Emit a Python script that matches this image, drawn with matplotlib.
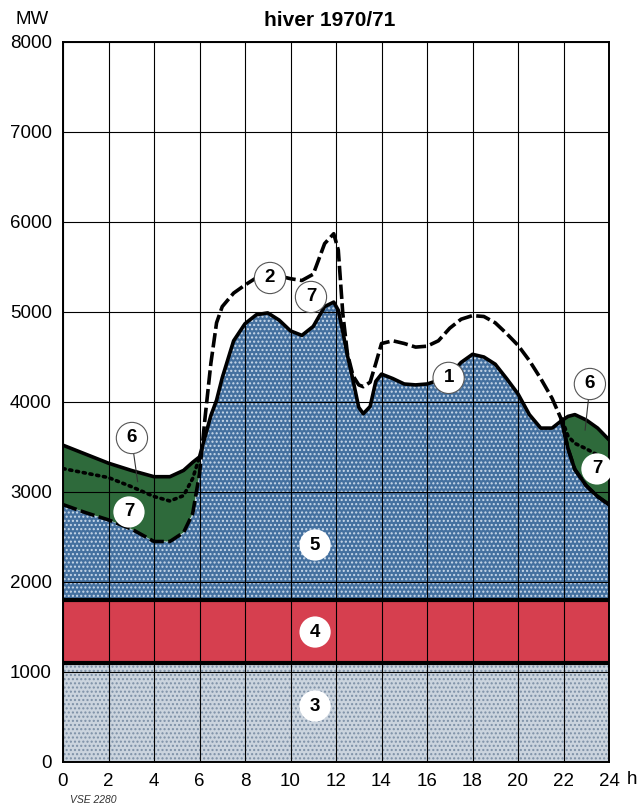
import numpy as np
import matplotlib
matplotlib.use('Agg')
import matplotlib.pyplot as plt

# --- données (MW) ---
heures = [0, 1, 2, 3, 4, 4.7, 5.3, 5.7, 6.0, 6.25, 6.5, 6.75, 7.0, 7.5, 8.0, 8.5, 9.0, 9.5,
          10.0, 10.5, 11.0, 11.5, 11.9, 12.1, 12.3, 12.5, 12.75, 13.0, 13.2, 13.5, 13.75,
          14.0, 14.5, 15.0, 15.5, 16.0, 16.5, 17.0, 17.5, 18.0, 18.5, 19.0, 19.5, 20.0,
          20.5, 21.0, 21.5, 21.9, 22.2, 22.5, 23.0, 23.5, 24.0]

# courbe 1 : consommation
conso = [3520, 3420, 3320, 3240, 3170, 3170, 3240, 3330, 3390, 3620, 3850, 4020, 4270, 4680,
         4870, 4970, 4990, 4910, 4790, 4740, 4840, 5060, 5110, 5020, 4780, 4520, 4240, 3940,
         3870, 3950, 4230, 4310, 4260, 4200, 4190, 4200, 4240, 4300, 4440, 4530, 4500, 4420,
         4260, 4090, 3860, 3710, 3710, 3790, 3840, 3860, 3800, 3710, 3580]

# courbe 2 : production
prod = [2860, 2770, 2690, 2590, 2450, 2450, 2550, 2760, 3200, 3840, 4430, 4880, 5060, 5210,
        5300, 5380, 5410, 5400, 5370, 5350, 5420, 5760, 5870, 5690, 4980, 4540, 4290, 4190,
        4170, 4220, 4430, 4650, 4680, 4650, 4610, 4620, 4680, 4820, 4920, 4960, 4950, 4880,
        4760, 4630, 4460, 4260, 4040, 3810, 3480, 3250, 3070, 2950, 2860]

# ligne pointillée (zones 6 / 7)
pointille_g_x = [0, 1, 2, 3, 4, 4.7, 5.3, 5.7, 6.0]
pointille_g_y = [3260, 3210, 3160, 3060, 2950, 2900, 2960, 3150, 3390]
pointille_d_x = [21.95, 22.2, 22.5, 23.0, 23.5, 24.0]
pointille_d_y = [3790, 3620, 3540, 3480, 3410, 3320]

base_3 = 1100      # bande 3
base_4 = 1800      # bande 4

# étiquettes (numéro, x, y, fond coloré ?)
etiquettes = [('1', 16.95, 4268, False), ('2', 9.1, 5378, False), ('7', 10.9, 5167, False),
              ('6', 3.03, 3600, False), ('7', 2.9, 2778, True), ('5', 11.08, 2411, True),
              ('4', 11.08, 1444, True), ('3', 11.08, 622, True), ('6', 23.16, 4200, False),
              ('7', 23.47, 3256, True)]

x_ticks = list(range(0, 25, 2))
y_ticks = list(range(0, 8001, 1000))

plt.rcParams['font.family'] = ['Liberation Sans', 'DejaVu Sans']
plt.rcParams['hatch.linewidth'] = 1.0

h = np.array(heures)
c1 = np.array(conso)
c2 = np.array(prod)

fig = plt.figure(figsize=(6.43, 8.08), dpi=100)
ax = fig.add_axes([63 / 643, 46 / 808, 546 / 643, 720 / 808])

BLEU = '#44709f'
GRIS = '#cbd4de'
ROUGE = '#d63f4f'
VERT = '#2e6a3b'

# bande 3
ax.fill_between([0, 24], 0, base_3, color=GRIS, lw=0)
ax.fill_between([0, 24], 0, base_3, facecolor='none', edgecolor='#7d90a6', hatch='....', lw=0)
# bande 4
ax.fill_between([0, 24], base_3, base_4, color=ROUGE, lw=0)
# bande 5
haut5 = np.minimum(c1, c2)
ax.fill_between(h, base_4, haut5, color=BLEU, lw=0)
ax.fill_between(h, base_4, haut5, facecolor='none', edgecolor='#c9d9ea', hatch='....', lw=0)
# zones 6 / 7
ax.fill_between(h, c2, c1, where=c2 < c1, interpolate=True, color=VERT, lw=0)

ax.axhline(base_3, color='black', lw=3, zorder=3)
ax.axhline(base_4, color='black', lw=3, zorder=3)

ax.plot(h, c1, color='black', lw=2.6, solid_capstyle='round', solid_joinstyle='round', zorder=4)
ax.plot(h, c2, color='black', lw=2.6, dashes=(4.0, 1.2), zorder=4)
fin = h >= 21.9
ax.plot(h[fin], c2[fin], color='black', lw=2.6, solid_joinstyle='round', zorder=4)
ax.plot(pointille_g_x, pointille_g_y, color='black', lw=2.6, dashes=(0.6, 1.3),
        dash_capstyle='round', zorder=4)
ax.plot(pointille_d_x, pointille_d_y, color='black', lw=2.6, dashes=(0.6, 1.3),
        dash_capstyle='round', zorder=4)

# traits de rappel des "6"
ax.plot([3.1, 3.28], [3440, 3115], color='#333333', lw=0.8, zorder=4)
ax.plot([23.1, 22.95], [4040, 3689], color='#333333', lw=0.8, zorder=4)

for num, x, y, plein in etiquettes:
    if plein:
        bbox = dict(boxstyle='circle,pad=0.38', fc='white', ec='none')
    else:
        bbox = dict(boxstyle='circle,pad=0.38', fc='white', ec='#555555', lw=0.8)
    ax.text(x, y, num, ha='center', va='center', fontsize=13.5, fontweight='bold',
            bbox=bbox, zorder=6)

ax.set_xlim(0, 24)
ax.set_ylim(0, 8000)
ax.set_xticks(x_ticks)
ax.set_yticks(y_ticks)
ax.grid(True, color='black', lw=0.8)
ax.tick_params(length=0, labelsize=13.5, pad=8)
for s in ax.spines.values():
    s.set_linewidth(1.4)

fig.text(330 / 643, 1 - 20 / 808, 'hiver 1970/71', ha='center', va='center',
         fontsize=15, fontweight='bold')
fig.text(32 / 643, 1 - 20 / 808, 'MW', ha='center', va='center', fontsize=13.5)
fig.text(632 / 643, 1 - 779 / 808, 'h', ha='center', va='center', fontsize=13.5)
fig.text(70 / 643, 1 - 800 / 808, 'VSE 2280', ha='left', va='center', fontsize=7.5,
         style='italic', color='#333333')

fig.savefig('out.png', dpi=100)
